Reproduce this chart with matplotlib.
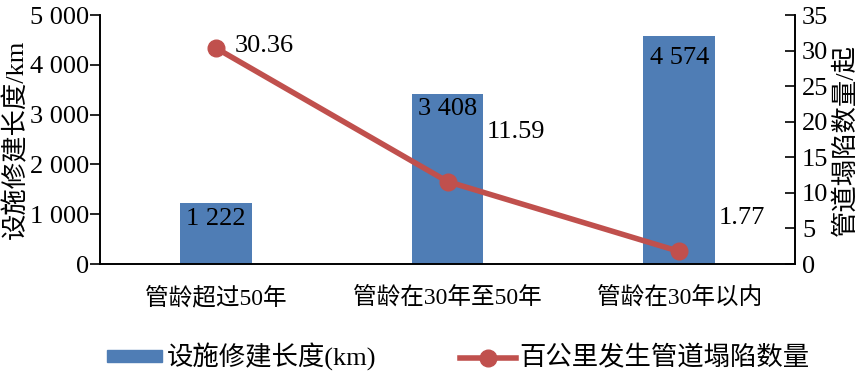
import matplotlib
matplotlib.use("Agg")
import matplotlib.pyplot as plt
from matplotlib.lines import Line2D
from matplotlib.patches import Patch

plt.rcParams['font.family'] = ['Liberation Serif', 'Noto Sans CJK SC']

categories = ['管龄超过50年', '管龄在30年至50年', '管龄在30年以内']
length_km = [1222, 3408, 4574]
collapse = [30.36, 11.59, 1.77]
length_labels = ['1 222', '3 408', '4 574']
left_ticks = [0, 1000, 2000, 3000, 4000, 5000]
left_tick_labels = ['0', '1 000', '2 000', '3 000', '4 000', '5 000']
right_ticks = [0, 5, 10, 15, 20, 25, 30, 35]

bar_color = '#4F7DB5'
line_color = '#C0504D'
fs = 19

fig = plt.figure(figsize=(8.65, 3.79), dpi=100)
ax1 = fig.add_axes([0.1156, 0.3034, 0.8035, 0.657])
ax2 = ax1.twinx()

x = list(range(len(categories)))
ax1.bar(x, length_km, width=0.31, color=bar_color, zorder=2)
ax1.set_xlim(-0.5, 2.5)
ax1.set_ylim(0, 5000)
ax1.set_yticks(left_ticks)
ax1.set_yticklabels(left_tick_labels, fontsize=fs)
ax1.set_xticks(x)
ax1.set_xticklabels(categories, fontsize=17)
ax1.tick_params(axis='x', length=0, pad=16)
ax1.tick_params(axis='y', direction='out', length=7, width=1.2, pad=1)
ax1.set_ylabel('设施修建长度/km', fontsize=19, labelpad=1)

ax2.plot(x, collapse, color=line_color, lw=4, marker='o', ms=12, zorder=3)
ax2.set_ylim(0, 35)
ax2.set_yticks(right_ticks)
ax2.set_yticklabels([str(t) for t in right_ticks], fontsize=fs)
ax2.tick_params(axis='y', direction='in', length=7, width=1.2, pad=5)
ax2.set_ylabel('管道塌陷数量/起', fontsize=19, rotation=90, labelpad=3)

for ax in (ax1, ax2):
    ax.spines['top'].set_visible(False)
    for s in ('left', 'right', 'bottom'):
        ax.spines[s].set_linewidth(1.2)

# bar value labels
ax1.text(x[0], 904, length_labels[0], ha='center', va='center', fontsize=fs)
ax1.text(x[1], 3112, length_labels[1], ha='center', va='center', fontsize=fs)
ax1.text(x[2], 4127, length_labels[2], ha='center', va='center', fontsize=fs)

# line value labels
ax2.text(x[0] + 0.08, 30.6, f'{collapse[0]:.2f}', ha='left', va='center', fontsize=fs)
ax2.text(x[1] + 0.17, 18.55, f'{collapse[1]:.2f}', ha='left', va='center', fontsize=fs)
ax2.text(x[2] + 0.17, 6.4, f'{collapse[2]:.2f}', ha='left', va='center', fontsize=fs)

handles = [Patch(color=bar_color),
           Line2D([0], [0], color=line_color, lw=4, marker='o', ms=12)]
fig.legend(handles, ['设施修建长度(km)', '百公里发生管道塌陷数量'],
           loc='center', bbox_to_anchor=(0.53, 0.058), ncol=2, frameon=False,
           fontsize=fs, handlelength=2.1, handleheight=0.3, handletextpad=0.15,
           columnspacing=3.2)

fig.savefig('out.png', dpi=100)
